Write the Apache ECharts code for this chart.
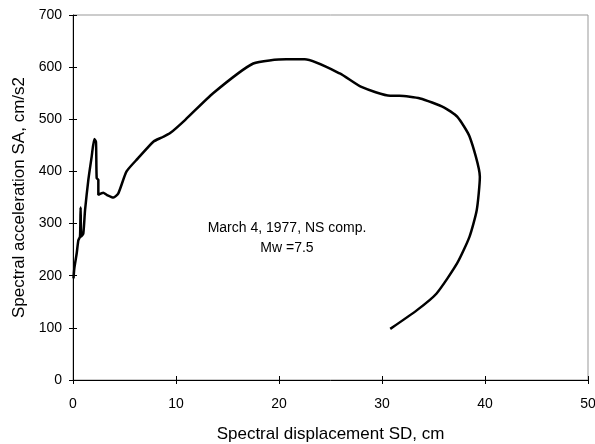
<!DOCTYPE html>
<html><head><meta charset="utf-8">
<script src="https://cdn.jsdelivr.net/npm/echarts@6/dist/echarts.min.js"></script>
<style>html,body{margin:0;padding:0;background:#fff}#c{width:595px;height:444px}</style>
</head><body><div id="c"></div>
<script>
const sd = [0.05,0.13,0.36,0.52,0.68,0.74,0.8,1.0,1.17,1.49,1.81,2.07,2.23,2.3,2.46,2.46,2.94,3.27,3.92,4.4,5.2,6.3,7.8,8.6,9.4,10.9,13.6,17.5,20.7,22.5,25.9,28.0,30.8,31.7,33.7,36.0,37.3,38.5,39.5,39.2,38.5,37.3,35.3,33.4,30.8];
const sa = [195,214,243,268,275,331,275,281,326,384,428,462,457,387,384,355,359,355,350,358,400,425,457,465,473,499,550,607,615,615,588,562,545,545,540,523,505,467,390,326,275,224,166,134,98];
const xTicks = [0,10,20,30,40,50];
const yTicks = [0,100,200,300,400,500,600,700];
const noteLines = ['March 4, 1977, NS comp.','Mw =7.5'];

const chart = echarts.init(document.getElementById('c'));
const font = 'Liberation Sans, Arial, sans-serif';
const axBase = {min:0, axisLine:{lineStyle:{color:'#000',width:1}}, splitLine:{show:false}};
chart.setOption({
  animation:false,
  grid:{left:73,right:7,top:15,bottom:64,show:true,borderColor:'#999',borderWidth:1,
        containLabel:false, outerBoundsMode:'none'},
  xAxis:[
    Object.assign({}, axBase, {type:'value', max:xTicks[xTicks.length-1], interval:10,
      axisTick:{length:4,lineStyle:{color:'#000'}},
      axisLabel:{color:'#000',fontFamily:font,fontSize:14,margin:17},
      name:'Spectral displacement SD, cm', nameLocation:'middle', nameGap:46,
      nameTextStyle:{color:'#000',fontFamily:font,fontSize:17}}),
    Object.assign({}, axBase, {type:'value', position:'bottom', max:50, interval:10,
      axisLine:{show:false}, axisTick:{inside:true,length:4,lineStyle:{color:'#000'}}, axisLabel:{show:false}})
  ],
  yAxis:[
    Object.assign({}, axBase, {type:'value', max:yTicks[yTicks.length-1], interval:100,
      axisTick:{length:4,lineStyle:{color:'#000'}},
      axisLabel:{color:'#000',fontFamily:font,fontSize:14,margin:11},
      name:'Spectral acceleration SA, cm/s2', nameLocation:'middle', nameGap:45,
      nameTextStyle:{color:'#000',fontFamily:font,fontSize:17}}),
    Object.assign({}, axBase, {type:'value', position:'left', max:700, interval:100,
      axisLine:{show:false}, axisTick:{inside:true,length:4,lineStyle:{color:'#000'}}, axisLabel:{show:false}})
  ],
  graphic:[{type:'text', silent:true,
    style:{text:noteLines.join('\n'), x:287, y:218, textAlign:'center', fill:'#000', font:'14px '+font, lineHeight:20}}],
  series:[{type:'line', data:sd.map((v,i)=>[v,sa[i]]), showSymbol:false, smooth:0.2,
    lineStyle:{color:'#000',width:2.5}, xAxisIndex:0, yAxisIndex:0}]
});
</script></body></html>
